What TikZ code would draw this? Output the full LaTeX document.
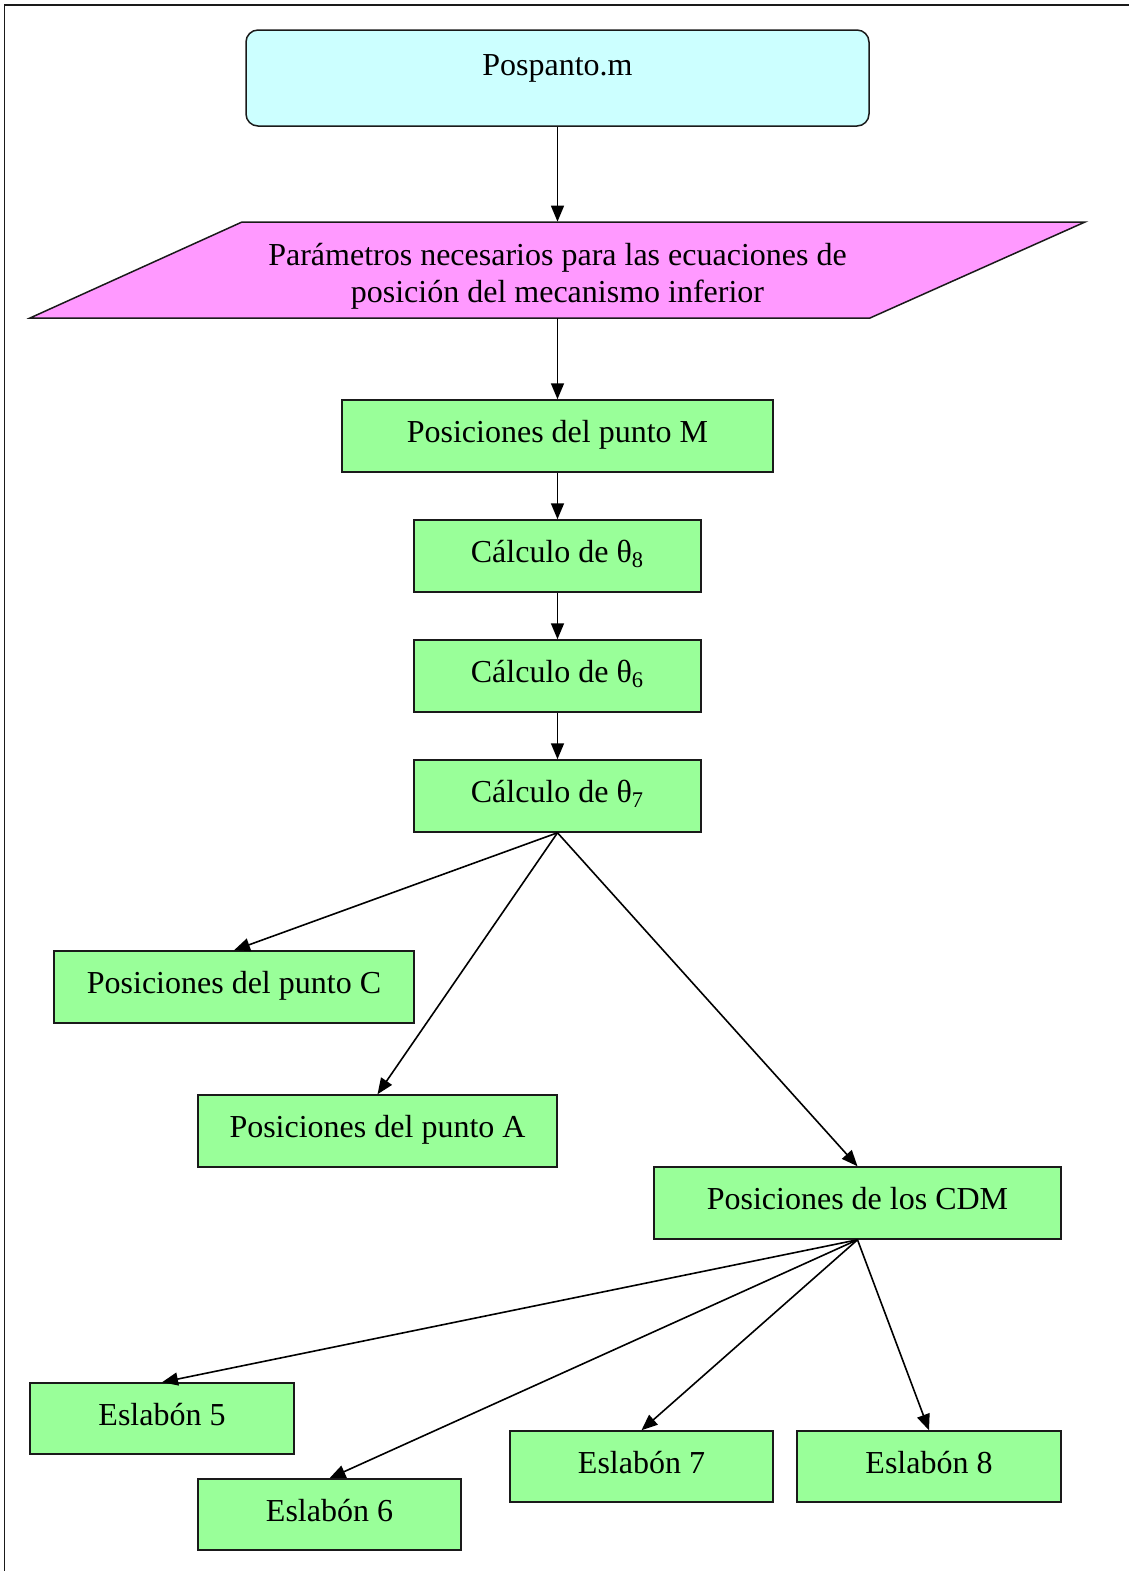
\documentclass[tikz,border=0pt]{standalone}
\usepackage{fontspec}
\setmainfont{Liberation Serif}
\usepackage{xcolor}
\usetikzlibrary{arrows.meta}
\definecolor{startcyan}{HTML}{CCFFFF}
\definecolor{datapink}{HTML}{FF99FF}
\definecolor{procgreen}{HTML}{99FF99}
\definecolor{edge}{HTML}{1A1A1A}
\tikzset{
  startbox/.style={
    draw=edge,
    fill=startcyan,
    line width=0.75pt,
    rounded corners=6pt,
    minimum width=311.5pt,
    minimum height=48pt,
    text depth=1.3em,
    font=\fontsize{16}{18.5}\selectfont
  },
  procbox/.style={
    draw=edge,
    fill=procgreen,
    line width=0.75pt,
    minimum height=36pt,
    text depth=0.45em,
    inner sep=0pt,
    font=\fontsize{16}{18.5}\selectfont
  },
  datatext/.style={
    align=center,
    minimum width=421.5pt,
    minimum height=48pt,
    inner sep=0pt,
    font=\fontsize{16}{18.5}\selectfont
  },
  flowarrow/.style={-{Triangle[length=8pt,width=6.5pt]}, line width=0.8pt, draw=black}
}
\newcommand{\tht}[1]{θ\textsubscript{#1}}

\begin{document}
\begin{tikzpicture}[x=0.5pt,y=-0.5pt]
\useasboundingbox (0,0) rectangle (1129,1571);
% page frame
\draw[edge, line width=0.75pt] (4.5,1580) -- (4.5,5) -- (1140,5);

\node[startbox] (start) at (557.5,78) {Pospanto.m};

% input parallelogram
\draw[edge, line width=0.75pt, fill=datapink] (242,222) -- (1085,222) -- (870,318) -- (30,318) -- cycle;
\node[datatext] (param) at (557.5,270) {\rule{0pt}{2.4ex}Parámetros necesarios para las ecuaciones de\\posición del mecanismo inferior};

\node[procbox, minimum width=215.5pt] (posM) at (557.5,436) {Posiciones del punto M};
\node[procbox, minimum width=143.5pt] (th8) at (557.5,556) {Cálculo de \tht{8}};
\node[procbox, minimum width=143.5pt] (th6) at (557.5,676) {Cálculo de \tht{6}};
\node[procbox, minimum width=143.5pt] (th7) at (557.5,796) {Cálculo de \tht{7}};

\node[procbox, minimum width=180pt] (posC) at (234,987) {Posiciones del punto C};
\node[procbox, minimum width=179.5pt] (posA) at (377.5,1131) {Posiciones del punto A};
\node[procbox, minimum width=203.5pt] (cdm) at (857.5,1203) {Posiciones de los CDM};

\node[procbox, minimum width=132pt, minimum height=35.5pt] (esl5) at (162,1418.5) {Eslabón 5};
\node[procbox, minimum width=131.5pt, minimum height=35.5pt] (esl6) at (329.5,1514.5) {Eslabón 6};
\node[procbox, minimum width=131.5pt, minimum height=35.5pt] (esl7) at (641.5,1466.5) {Eslabón 7};
\node[procbox, minimum width=132pt, minimum height=35.5pt] (esl8) at (929,1466.5) {Eslabón 8};

\draw[flowarrow] (start.south) -- (param.north);
\draw[flowarrow] (param.south) -- (posM.north);
\foreach \a/\b in {posM/th8,th8/th6,th6/th7,th7/posC,th7/posA,th7/cdm,cdm/esl5,cdm/esl6,cdm/esl7,cdm/esl8}
  \draw[flowarrow] (\a.south) -- (\b.north);
\end{tikzpicture}
\end{document}
